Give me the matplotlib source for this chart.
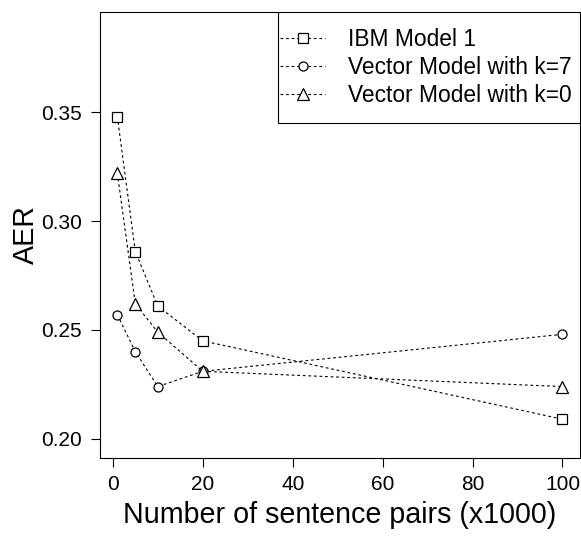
import matplotlib
matplotlib.use("Agg")
import matplotlib.pyplot as plt
from matplotlib.patches import Rectangle

# ---- data ----
pairs = [1, 5, 10, 20, 100]          # sentence pairs (x1000)
ibm_model1 = [0.348, 0.286, 0.261, 0.245, 0.209]
vector_k7 = [0.257, 0.240, 0.224, 0.231, 0.248]
vector_k0 = [0.322, 0.262, 0.249, 0.231, 0.224]

labels = ["IBM Model 1", "Vector Model with k=7", "Vector Model with k=0"]
x_ticks = [0, 20, 40, 60, 80, 100]
y_ticks = [0.20, 0.25, 0.30, 0.35]

plt.rcParams['font.family'] = ['Liberation Sans', 'DejaVu Sans']

fig = plt.figure(figsize=(5.81, 5.37), dpi=100)
ax = fig.add_axes([0.1713, 0.148, 0.8275, 0.8302])

# line style used for every series
style = dict(color='black', linestyle=(0, (2.5, 2.5)), linewidth=0.8,
             markerfacecolor='white', markeredgecolor='black',
             markeredgewidth=0.9)

ax.plot(pairs, ibm_model1, marker='s', markersize=6.5, label=labels[0], **style)
ax.plot(pairs, vector_k7, marker='o', markersize=6.5, label=labels[1], **style)
ax.plot(pairs, vector_k0, marker='^', markersize=8, label=labels[2], **style)

ax.set_xlim(-2.96, 103.96)
ax.set_ylim(0.1914, 0.3962)

ax.set_xticks(x_ticks)
ax.set_xticklabels([str(t) for t in x_ticks])
ax.set_yticks(y_ticks)
ax.set_yticklabels(["%.2f" % t for t in y_ticks])

ax.tick_params(direction='out', length=6.5, width=0.8, color='black',
               labelsize=15, pad=6)

for sp in ax.spines.values():
    sp.set_linewidth(0.8)
    sp.set_color('black')

ax.set_xlabel("Number of sentence pairs (x1000)", fontsize=20.6, labelpad=5)
ax.set_ylabel("AER", fontsize=20.6, labelpad=1)

# legend box drawn like R's: tight on the left, roomy top and bottom
ax.add_patch(Rectangle((0.3713, 0.7503), 0.6287, 0.2497, transform=ax.transAxes,
                       facecolor='white', edgecolor='black', linewidth=0.8,
                       zorder=4))
leg = ax.legend(loc='upper left', bbox_to_anchor=(0.3755, 0.9638), borderaxespad=0,
                frameon=False, fontsize=16.4, numpoints=1, handlelength=1.98,
                handletextpad=1.0, labelspacing=0.22, borderpad=0)
leg.set_zorder(5)

fig.savefig("out.png", dpi=100)
